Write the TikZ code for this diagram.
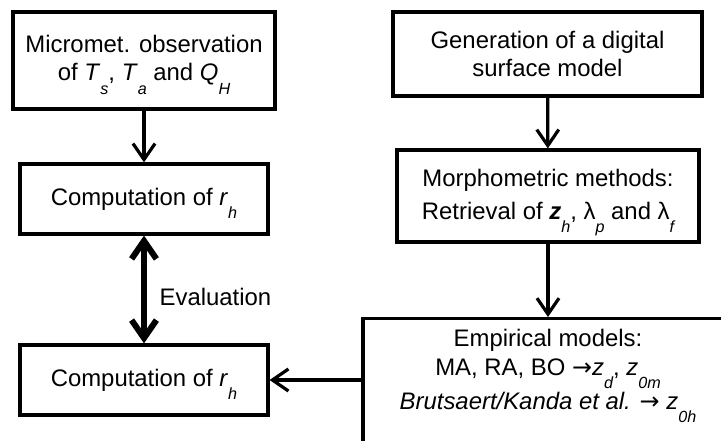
\documentclass[tikz,border=0pt]{standalone}
\usepackage{fontspec}
\setmainfont{Liberation Sans}
\newfontfamily\arrowfont{DejaVu Sans}
\usetikzlibrary{positioning}
\usetikzlibrary{arrows.meta}

\newcommand{\lowsub}[1]{\smash{\raisebox{-0.55em}{\fontsize{11.5}{11.5}\selectfont\itshape #1}}}
\newcommand{\rarrow}{{\arrowfont →}}

\tikzset{
	box/.style={rectangle, draw=black, line width=0.08cm, align=center, inner sep=0pt, font=\fontsize{17}{19.9}\selectfont},
	flow/.style={-{Straight Barb[length=0.4cm, width=0.55cm]}, line width=0.08cm},
	evalarrow/.style={{Straight Barb[length=0.45cm, width=0.62cm]}-{Straight Barb[length=0.45cm, width=0.62cm]}, line width=0.15cm}
}

\begin{document}
\begin{tikzpicture}
		\path[use as bounding box, clip] (0,0) rectangle (18.025,11);

		% left column
		\node[box, minimum width=6.55cm, minimum height=2.425cm](micro) at (3.6,9.4875){Micromet. observation\\of \textit{T}\lowsub{s}, \textit{T}\lowsub{a} and \textit{Q}\lowsub{H}};
		\node[box, minimum width=6.2cm, minimum height=1.75cm](compTop) at (3.6,6.025){Computation of \textit{r}\lowsub{h}};
		\node[box, minimum width=6.2cm, minimum height=1.75cm](compBottom) at (3.6,1.5){Computation of \textit{r}\lowsub{h}};

		% right column
		\node[box, minimum width=7.725cm, minimum height=2.1cm](dsm) at (13.6875,9.65){Generation of a digital\\surface model};
		\node[box, minimum width=7.55cm, minimum height=2.3cm](morph) at (13.7,6.1){Morphometric methods:\\[0.13cm]Retrieval of \textbf{\textit{z}}\lowsub{h}, λ\lowsub{p} and λ\lowsub{f}};
		\node[box, minimum width=9.25cm, anchor=north, inner ysep=0.27cm, text depth=1.5cm](empirical) at (13.7,3.075){Empirical models:\\[0.02cm]MA, RA, BO \rarrow\textit{z}\lowsub{d}, \textit{z}\lowsub{0m}\\[0.14cm]\textit{Brutsaert/Kanda et al.} \rarrow{} \textit{z}\lowsub{0h}};

		% draw flow edges
		\draw[flow] (micro) -- (compTop);
		\draw[flow] (dsm) -- (morph);
		\draw[flow] (morph.south) -- (empirical.north);
		\draw[flow] (empirical.west |- compBottom) -- (compBottom);

		% draw evaluation edge
		\draw[evalarrow] (compTop) -- node[pos=0.57, right=0.2cm, font=\fontsize{17}{19.9}\selectfont](evalLabel){Evaluation} (compBottom);

\end{tikzpicture}
\end{document}
